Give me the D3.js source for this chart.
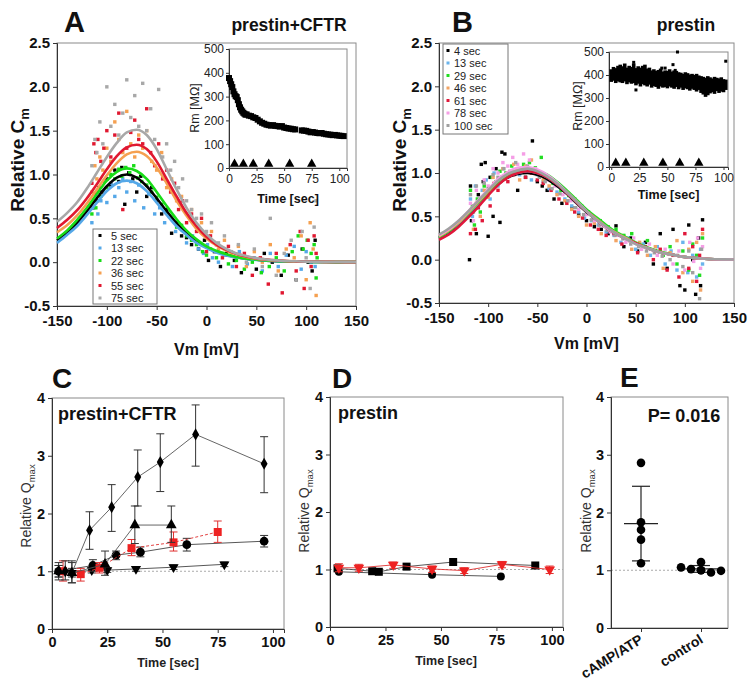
<!DOCTYPE html>
<html><head><meta charset="utf-8">
<script src="https://cdnjs.cloudflare.com/ajax/libs/d3/7.8.5/d3.min.js"></script>
<style>body{margin:0;background:#fff}svg{display:block}text{font-family:Arial,"Liberation Sans",sans-serif}</style>
</head><body><svg id="c" width="752" height="692"></svg>
<script>
// ---------------- DATA ----------------
const vmTicks = [-150,-100,-50,0,50,100,150];
const cmTicks = [-0.5,0,0.5,1,1.5,2,2.5];
const rmTicks = [0,100,200,300,400,500];
const insetTimeTicks = [0,25,50,75,100];
const qTicks = [0,1,2,3,4];
const timeTicks = [0,25,50,75,100];

// fitted curves, sampled every 10 mV
const vGrid = [-150,-140,-130,-120,-110,-100,-90,-80,-70,-60,-50,-40,-30,-20,-10,0,10,20,30,40,50,60,70,80,90,100,110,120,130,140,150];

const labelsA = ['5 sec','13 sec','22 sec','36 sec','55 sec','75 sec'];
const fitA = [
 [0.25,0.33,0.445,0.582,0.729,0.866,0.964,1.0,0.964,0.866,0.729,0.582,0.445,0.329,0.238,0.169,0.118,0.082,0.057,0.039,0.027,0.018,0.012,0.008,0.006,0.004,0.003,0.002,0.001,0.001,0.0],
 [0.22,0.31,0.41,0.54,0.68,0.81,0.90,0.93,0.90,0.81,0.68,0.54,0.41,0.31,0.22,0.16,0.11,0.076,0.053,0.036,0.025,0.017,0.011,0.007,0.005,0.004,0.003,0.002,0.001,0.001,0],
 [0.27,0.36,0.48,0.62,0.78,0.93,1.03,1.07,1.04,0.95,0.80,0.64,0.49,0.36,0.26,0.18,0.13,0.09,0.06,0.04,0.03,0.02,0.013,0.009,0.006,0.004,0.003,0.002,0.001,0.001,0],
 [0.34,0.42,0.53,0.67,0.83,0.99,1.13,1.23,1.26,1.21,1.08,0.90,0.70,0.53,0.38,0.27,0.19,0.13,0.09,0.06,0.04,0.028,0.019,0.013,0.009,0.006,0.004,0.003,0.002,0.001,0.001],
 [0.39,0.48,0.59,0.73,0.89,1.06,1.21,1.31,1.34,1.29,1.15,0.95,0.75,0.56,0.41,0.29,0.20,0.14,0.095,0.064,0.043,0.03,0.02,0.013,0.009,0.006,0.004,0.003,0.002,0.001,0.001],
 [0.46,0.56,0.68,0.84,1.02,1.20,1.36,1.48,1.51,1.45,1.29,1.06,0.83,0.62,0.45,0.32,0.22,0.15,0.10,0.07,0.046,0.03,0.02,0.014,0.01,0.006,0.004,0.003,0.002,0.001,0.001]
];
const ptsA5 = [[-114,0.62],[-112,0.78],[-110,0.70],[-108,0.85],[-105,0.80],[-100,0.95],[-96,0.88],[-92,1.05],[-88,0.92],[-85,1.08],[-82,0.66],[-78,1.02],[-74,0.95],[-70,0.80],[-66,0.98],[-60,0.75],[-55,0.85],[-50,0.70],[-45,0.55],[-40,0.60],[-35,0.33],[-30,0.45],[-25,0.30],[-20,0.28],[-15,0.20],[-8,0.15],[-2,0.25],[2,0.02],[8,0.12],[14,-0.05],[20,0.10],[28,0.02],[35,-0.12],[42,0.05],[50,-0.08],[58,0.10],[66,0.0],[75,-0.15],[82,0.08],[90,-0.20],[96,0.15],[102,0.0],[106,-0.1],[109,0.25]];
const ptsA13 = [[-115,0.45],[-113,0.62],[-111,0.75],[-109,0.55],[-106,0.70],[-103,0.82],[-100,0.68],[-96,0.90],[-92,0.75],[-88,0.85],[-84,0.95],[-80,0.80],[-76,0.92],[-72,0.70],[-68,0.88],[-63,0.62],[-58,0.78],[-52,0.55],[-47,0.62],[-42,0.45],[-37,0.52],[-31,0.35],[-26,0.40],[-20,0.22],[-14,0.30],[-8,0.15],[-3,0.10],[1,0.20],[6,0.05],[12,0.0],[19,0.08],[26,-0.05],[33,0.12],[41,-0.02],[48,0.05],[56,-0.10],[64,0.10],[72,-0.05],[80,0.08],[88,0.18],[95,-0.08],[100,0.12],[105,0.0],[109,-0.05]];
const ptsA22 = [[-115,0.55],[-113,0.70],[-111,0.62],[-109,0.80],[-106,0.75],[-103,0.92],[-100,0.85],[-96,1.0],[-92,0.95],[-88,1.06],[-85,0.98],[-81,1.08],[-77,1.02],[-73,1.10],[-69,0.96],[-65,0.92],[-60,0.88],[-55,0.80],[-50,0.74],[-45,0.66],[-40,0.56],[-35,0.50],[-30,0.40],[-25,0.42],[-20,0.30],[-15,0.25],[-10,0.20],[-4,0.12],[0,0.08],[4,0.15],[10,0.05],[16,0.10],[22,-0.02],[30,0.02],[38,-0.08],[46,0.0],[55,-0.12],[63,-0.05],[70,0.05],[78,-0.10],[86,0.12],[92,0.30],[97,0.15],[101,0.25],[105,0.10],[108,0.20],[110,-0.18],[111,0.05]];
const ptsA36 = [[-115,0.80],[-112,1.10],[-110,0.95],[-107,1.20],[-104,1.05],[-100,1.30],[-96,1.15],[-92,1.60],[-88,1.40],[-84,1.25],[-80,1.72],[-76,1.35],[-72,1.20],[-68,1.45],[-64,1.30],[-60,1.50],[-55,1.15],[-50,1.05],[-45,1.25],[-40,0.85],[-35,0.95],[-30,0.70],[-25,0.75],[-20,0.55],[-15,0.60],[-10,0.40],[-5,0.45],[0,0.30],[5,0.35],[12,0.15],[18,0.25],[25,0.10],[32,0.18],[40,-0.05],[48,0.12],[56,0.0],[64,0.20],[72,-0.10],[80,0.15],[88,0.05],[95,0.30],[100,-0.20],[104,0.45],[107,0.15],[110,-0.38]];
const ptsA55 = [[-115,0.90],[-113,1.35],[-111,1.25],[-109,1.40],[-106,1.15],[-103,1.30],[-100,1.50],[-96,1.20],[-92,1.45],[-88,1.70],[-84,0.60],[-80,1.30],[-76,1.48],[-72,1.62],[-68,1.40],[-64,1.35],[-60,1.75],[-56,1.25],[-52,1.10],[-48,1.35],[-44,0.95],[-40,1.05],[-36,0.80],[-32,0.90],[-28,0.60],[-24,0.70],[-20,0.45],[-15,0.55],[-10,0.35],[-5,0.50],[0,0.12],[4,0.30],[10,0.20],[16,0.05],[22,0.18],[30,-0.05],[38,0.10],[46,-0.15],[54,0.05],[62,-0.25],[70,0.10],[76,-0.35],[84,0.20],[90,-0.10],[94,0.35],[98,-0.30],[102,0.25],[105,-0.05],[108,0.30],[110,0.10]];
const ptsA75 = [[-115,1.10],[-112,1.40],[-110,1.25],[-107,1.60],[-104,1.35],[-100,2.00],[-96,1.55],[-92,1.80],[-88,1.45],[-84,1.70],[-80,2.08],[-76,1.65],[-72,1.90],[-68,1.55],[-64,2.04],[-60,1.50],[-56,1.75],[-52,1.40],[-48,1.97],[-44,1.20],[-40,1.35],[-36,1.05],[-32,1.15],[-28,0.85],[-24,0.95],[-20,0.70],[-15,0.60],[-10,0.50],[-5,0.55],[0,0.35],[5,0.45],[12,0.22],[18,0.30],[25,0.12],[32,0.20],[40,0.0],[48,0.15],[56,-0.05],[64,0.50],[70,-0.15],[78,0.10],[85,0.25],[90,-0.20],[96,0.35],[100,0.05],[104,-0.30],[108,0.40],[110,0.70]];

const labelsB = ['4 sec','13 sec','29 sec','46 sec','61 sec','78 sec','100 sec'];
const fitB = [
 [0.25,0.32,0.41,0.52,0.64,0.76,0.87,0.95,0.99,1.00,0.98,0.93,0.85,0.76,0.65,0.55,0.46,0.37,0.30,0.24,0.19,0.14,0.10,0.07,0.05,0.03,0.02,0.01,0.005,0.003,0.002],
 [0.26,0.33,0.42,0.53,0.65,0.77,0.88,0.96,1.00,1.02,1.00,0.95,0.87,0.77,0.66,0.56,0.46,0.38,0.30,0.24,0.19,0.14,0.10,0.07,0.05,0.03,0.02,0.01,0.005,0.003,0.002],
 [0.26,0.33,0.43,0.54,0.66,0.78,0.90,0.98,1.03,1.05,1.03,0.98,0.90,0.80,0.69,0.58,0.49,0.40,0.32,0.26,0.20,0.15,0.11,0.08,0.05,0.03,0.02,0.01,0.005,0.003,0.002],
 [0.27,0.34,0.43,0.55,0.67,0.79,0.91,0.99,1.04,1.06,1.03,0.97,0.88,0.78,0.67,0.56,0.47,0.38,0.31,0.25,0.19,0.14,0.10,0.07,0.05,0.03,0.02,0.01,0.005,0.003,0.002],
 [0.23,0.29,0.38,0.49,0.61,0.74,0.86,0.95,1.00,1.02,1.00,0.95,0.87,0.77,0.66,0.56,0.46,0.37,0.30,0.24,0.19,0.14,0.10,0.07,0.05,0.03,0.02,0.01,0.005,0.003,0.002],
 [0.28,0.35,0.45,0.56,0.69,0.81,0.93,1.01,1.06,1.07,1.04,0.98,0.89,0.78,0.67,0.56,0.46,0.37,0.30,0.24,0.18,0.14,0.10,0.07,0.05,0.03,0.02,0.01,0.005,0.003,0.002],
 [0.29,0.36,0.45,0.56,0.68,0.80,0.91,0.99,1.03,1.05,1.02,0.96,0.88,0.78,0.67,0.56,0.46,0.38,0.30,0.24,0.18,0.14,0.10,0.07,0.05,0.03,0.02,0.01,0.005,0.003,0.002]
];
const ptsB4 = [[-119,0.0],[-118,0.85],[-117,0.45],[-115,0.60],[-112,0.30],[-110,0.75],[-107,1.10],[-105,0.90],[-103,1.12],[-100,0.27],[-98,0.95],[-95,0.50],[-92,1.05],[-88,0.43],[-86,1.24],[-83,1.22],[-80,0.97],[-75,1.02],[-70,0.80],[-67,1.05],[-62,0.95],[-55,1.37],[-50,0.90],[-45,0.85],[-40,0.80],[-33,0.70],[-25,0.65],[-15,0.60],[-8,0.52],[0,0.45],[8,0.38],[15,0.35],[22,0.30],[30,0.39],[38,0.15],[45,0.25],[52,0.10],[60,0.20],[68,-0.05],[75,0.30],[82,-0.10],[88,0.35],[95,-0.30],[100,-0.35],[104,0.40],[108,0.0],[111,-0.40],[114,0.25],[116,-0.30],[118,0.46]];
const ptsB13 = [[-118,0.70],[-116,0.50],[-113,0.85],[-110,0.60],[-106,0.80],[-102,0.92],[-98,0.70],[-94,1.00],[-90,0.85],[-85,1.05],[-80,0.95],[-74,1.00],[-68,0.98],[-62,1.05],[-56,0.92],[-50,0.98],[-44,0.90],[-38,0.82],[-30,0.78],[-22,0.70],[-15,0.62],[-8,0.55],[-2,0.48],[5,0.45],[12,0.40],[20,0.32],[28,0.28],[35,0.20],[42,0.25],[50,0.12],[58,0.18],[65,0.05],[72,0.15],[80,-0.05],[86,0.10],[92,-0.12],[98,0.20],[103,-0.15],[108,0.05],[112,-0.20],[116,0.12],[118,-0.05]];
const ptsB29 = [[-118,0.80],[-116,0.62],[-114,0.40],[-111,0.70],[-108,0.55],[-104,0.85],[-100,0.78],[-96,0.95],[-92,0.90],[-88,1.02],[-82,1.00],[-76,1.08],[-70,1.05],[-64,1.10],[-58,1.12],[-52,1.06],[-46,1.18],[-40,0.95],[-34,0.88],[-26,0.80],[-18,0.74],[-12,0.70],[-5,0.62],[2,0.55],[8,0.48],[14,0.45],[22,0.38],[30,0.35],[38,0.28],[46,0.30],[54,0.18],[62,0.22],[70,0.10],[78,0.05],[85,0.15],[92,-0.05],[98,0.10],[104,-0.12],[108,0.18],[112,0.05],[115,-0.18],[118,0.25]];
const ptsB46 = [[-118,0.55],[-115,0.35],[-112,0.65],[-108,0.50],[-104,0.80],[-100,0.72],[-95,0.95],[-90,0.88],[-85,1.05],[-80,1.00],[-74,1.10],[-68,0.92],[-62,1.08],[-56,1.15],[-50,1.00],[-44,0.92],[-38,0.85],[-30,0.75],[-22,0.68],[-15,0.58],[-8,0.50],[0,0.40],[8,0.42],[15,0.30],[22,0.35],[30,0.22],[38,0.25],[46,0.12],[54,0.20],[62,0.05],[70,0.15],[78,-0.10],[85,0.08],[92,0.22],[98,-0.15],[104,0.12],[108,-0.25],[112,0.20],[116,-0.35],[118,0.30]];
const ptsB61 = [[-118,0.30],[-116,0.55],[-113,0.35],[-110,0.60],[-106,0.45],[-102,0.75],[-98,0.62],[-94,0.88],[-90,0.80],[-86,0.95],[-80,0.90],[-74,0.98],[-68,1.05],[-62,0.95],[-56,1.00],[-50,0.92],[-44,0.88],[-36,0.80],[-28,0.70],[-20,0.65],[-12,0.55],[-4,0.48],[4,0.40],[12,0.35],[20,0.28],[28,0.30],[36,0.18],[44,0.22],[52,0.08],[60,0.15],[68,0.0],[75,0.12],[82,-0.12],[88,0.05],[94,-0.20],[100,0.30],[104,-0.10],[108,0.15],[112,-0.25],[115,0.05],[118,0.35]];
const ptsB78 = [[-118,0.65],[-115,0.45],[-112,0.80],[-108,0.70],[-104,0.92],[-100,0.85],[-95,1.05],[-90,1.00],[-85,1.12],[-80,1.08],[-75,1.18],[-70,1.10],[-64,1.22],[-58,1.15],[-52,1.05],[-46,0.98],[-40,0.92],[-32,0.85],[-24,0.75],[-16,0.68],[-8,0.58],[0,0.52],[8,0.45],[16,0.40],[24,0.32],[32,0.28],[40,0.20],[48,0.25],[56,0.12],[64,0.18],[72,0.05],[80,0.12],[88,-0.05],[94,0.10],[100,-0.12],[105,0.20],[109,-0.02],[113,0.25],[116,-0.10],[118,0.15]];
const ptsB100 = [[-118,0.75],[-115,0.55],[-112,0.85],[-108,0.65],[-104,0.88],[-100,0.82],[-95,0.98],[-90,0.95],[-84,1.05],[-78,1.02],[-72,1.12],[-66,1.05],[-60,1.08],[-54,1.02],[-48,0.95],[-42,0.90],[-35,0.82],[-27,0.76],[-19,0.68],[-11,0.60],[-3,0.52],[5,0.46],[13,0.40],[21,0.34],[29,0.28],[37,0.24],[45,0.18],[53,0.15],[61,0.10],[69,0.08],[77,0.04],[85,0.0],[92,0.05],[98,-0.08],[104,0.10],[108,-0.15],[112,0.02],[115,-0.45],[117,0.12]];

// insets: membrane resistance vs time
const rmA = [[0,378],[1,365],[2,352],[3,340],[4,322],[5,310],[6,302],[7,298],[8,285],[9,268],[10,255],[11,245],[12,238],[13,232],[14,228],[15,224],[16,225],[18,220],[20,218],[22,213],[24,210],[26,203],[28,196],[30,190],[32,186],[34,182],[36,180],[38,178],[40,180],[42,177],[44,176],[46,174],[48,176],[50,170],[52,168],[54,166],[56,165],[58,163],[60,162],[66,158],[68,157],[70,156],[72,153],[74,150],[76,151],[78,149],[80,147],[82,146],[84,147],[86,144],[88,142],[90,141],[92,140],[94,138],[96,139],[98,137],[100,136],[102,135],[104,134]];
const stimA = [5,13,22,36,55,75];
const rmBband = [[0,370,425],[2,375,435],[4,365,430],[6,372,440],[8,368,445],[10,365,438],[12,372,450],[14,360,432],[16,368,440],[18,362,435],[20,365,450],[22,355,430],[24,362,438],[26,350,432],[28,360,440],[30,355,445],[32,350,428],[34,358,432],[36,345,420],[38,352,425],[40,348,418],[42,340,422],[44,350,428],[46,345,415],[48,348,420],[50,342,418],[52,350,425],[54,345,415],[56,340,420],[58,348,418],[60,338,412],[62,345,410],[64,335,405],[66,342,412],[68,338,408],[70,332,402],[72,340,405],[74,335,400],[76,328,405],[78,335,398],[80,322,395],[82,315,392],[84,305,388],[86,312,395],[88,320,390],[90,325,385],[92,318,392],[94,330,388],[96,322,385],[98,328,390],[100,325,382],[102,335,380]];
const rmBout = [[20,455],[22,335],[45,430],[48,430],[55,445],[57,420],[59,500],[102,460]];
const stimB = [4,13,29,46,61,78];

// panel C
const tDia=[3,6,9,17,27,38.8,49,65,96], qDia=[1.0,1.0,0.97,1.71,2.11,2.63,2.89,3.37,2.86];
const eDia=[[0.85,1.15],[0.85,1.18],[0.8,1.18],[1.38,2.03],[1.69,2.5],[2.13,3.1],[2.38,3.38],[2.82,3.88],[2.36,3.33]];
const tTri=[3,9,24,37.5,54], qTri=[1.0,0.97,1.12,1.8,1.8];
const eTri=[[0.9,1.1],[0.8,1.15],[0.93,1.35],[1.48,2.13],[1.5,2.13]];
const tSq=[5,13,21.5,36,55,75], qSq=[1.0,0.95,1.06,1.4,1.5,1.68];
const eSq=[[0.83,1.18],[0.83,1.05],[0.97,1.15],[1.27,1.55],[1.35,1.68],[1.5,1.87]];
const tCi=[3,18.5,29,40,61,96], qCi=[1.0,1.1,1.28,1.33,1.46,1.52];
const eCi=[[0.9,1.1],[1.0,1.2],[1.2,1.35],[1.25,1.42],[1.35,1.57],[1.42,1.62]];
const tInv=[9,18,25,38,55,78], qInv=[0.97,1.02,1.02,1.04,1.07,1.12];
const eInv=[[0.9,1.05],[0.97,1.07],[0.98,1.06],[1.0,1.08],[1.03,1.11],[1.08,1.16]];

// panel D
const tDsq=[3.4,19,22,34.5,55.5,92.5], qDsq=[1.02,0.97,0.96,1.05,1.13,1.07];
const tDci=[4,46,77], qDci=[0.96,0.91,0.88];
const tDinv=[4,13,28.5,46,60.5,77.5,99], qDinv=[1.03,1.03,1.08,1.01,0.98,1.09,1.0];
const eDinv=[[0.96,1.1],[0.97,1.09],[1.02,1.13],[0.95,1.06],[0.93,1.03],[1.03,1.14],[0.93,1.06]];

// panel E
const groupsE = ['cAMP/ATP','control'];
const qE_camp = [2.86,1.83,1.70,1.53,1.12];
const qE_ctrl = [1.0,1.02,0.96,1.14,1.05,0.99,1.0];

// ---------------- STYLE ----------------
const colA = ['#000000','#55a8e8','#18dc18','#f5a050','#e01830','#a8a8a8'];
const colB = ['#000000','#6ab4ec','#22dd22','#f2a464','#e0183a','#f59ee6','#a0a0a0'];
const FONT = 'Arial, "Liberation Sans", sans-serif';
const svg = d3.select('#c');

function styleAxis(g, size, weight, color) {
  g.attr('font-family', FONT).attr('font-size', size);
  g.select('.domain').attr('stroke', '#333');
  g.selectAll('.tick line').attr('stroke', '#333');
  g.selectAll('.tick text').attr('font-weight', weight).attr('fill', color || '#111');
}
function text(x, y, s, size, weight, anchor, color) {
  return svg.append('text').attr('x', x).attr('y', y).text(s)
    .attr('font-size', size).attr('font-weight', weight || 'normal')
    .attr('text-anchor', anchor || 'start').attr('fill', color || '#111');
}
function yLabel(x, y, main, sub, size, weight, color) {
  const t = svg.append('text').attr('transform', `translate(${x},${y}) rotate(-90)`)
    .attr('text-anchor', 'middle').attr('font-size', size).attr('font-weight', weight).attr('fill', color || '#111');
  t.append('tspan').text(main);
  if (sub) t.append('tspan').attr('font-size', size * 0.68).attr('dy', size * 0.25).text(sub);
}
function frameRect(x0, y0, x1, y1) {
  svg.append('rect').attr('x', x0).attr('y', y0).attr('width', x1 - x0).attr('height', y1 - y0)
    .attr('fill', 'none').attr('stroke', '#8a8a8a').attr('stroke-width', 1);
}

// ---------------- PANEL A / B (Cm vs Vm) ----------------
function cmPanel(cfg) {
  const x = d3.scaleLinear([-150, 150], cfg.xr), y = d3.scaleLinear([-0.5, 2.5], cfg.yr);
  frameRect(cfg.xr[0], cfg.yr[1], cfg.xr[1], cfg.yr[0]);
  const gx = svg.append('g').attr('transform', `translate(0,${cfg.yr[0]})`)
    .call(d3.axisBottom(x).tickValues(vmTicks).tickSize(4).tickPadding(5).tickFormat(d => String(d)));
  styleAxis(gx, 15, 'bold');
  const gy = svg.append('g').attr('transform', `translate(${cfg.xr[0]},0)`)
    .call(d3.axisLeft(y).tickValues(cmTicks).tickSize(4).tickPadding(3).tickFormat(d => d.toFixed(1)));
  styleAxis(gy, 15, 'bold');
  // scatter
  cfg.pts.forEach((pts, i) => {
    svg.append('g').selectAll('rect').data(pts).join('rect')
      .attr('x', d => x(d[0]) - 1.7).attr('y', d => y(d[1]) - 1.7)
      .attr('width', 3.4).attr('height', 3.4).attr('fill', cfg.cols[i]);
  });
  // fitted curves
  const line = d3.line().x((d, j) => x(vGrid[j])).y(d => y(d)).curve(d3.curveMonotoneX);
  cfg.fits.forEach((f, i) => {
    svg.append('path').attr('d', line(f)).attr('fill', 'none')
      .attr('stroke', cfg.cols[i]).attr('stroke-width', 2.6);
  });
  // legend
  const L = cfg.leg;
  svg.append('rect').attr('x', L.x0).attr('y', L.y0).attr('width', L.x1 - L.x0).attr('height', L.y1 - L.y0)
    .attr('fill', '#fff').attr('stroke', '#777');
  cfg.labels.forEach((s, i) => {
    const yy = L.ry + i * L.dy;
    svg.append('rect').attr('x', L.mx - 1.5).attr('y', yy - 1.5).attr('width', 3).attr('height', 3).attr('fill', cfg.cols[i]);
    text(L.tx, yy + 4, s, 11, 'normal', 'start', '#222');
  });
  text((cfg.xr[0] + cfg.xr[1]) / 2, cfg.xlabY, 'Vm [mV]', 16, 'bold', 'middle');
  yLabel(cfg.ylabX, 160, 'Relative C', 'm', 19, 'bold');
}

cmPanel({xr: [57, 356], yr: [306, 43], pts: [ptsA5, ptsA13, ptsA22, ptsA36, ptsA55, ptsA75], fits: fitA,
  cols: colA, labels: labelsA, leg: {x0: 93, y0: 229, x1: 157, y1: 304, ry: 235.5, dy: 12.5, mx: 100, tx: 111},
  xlabY: 355, ylabX: 24});
cmPanel({xr: [439, 734], yr: [303, 43], pts: [ptsB4, ptsB13, ptsB29, ptsB46, ptsB61, ptsB78, ptsB100], fits: fitB,
  cols: colB, labels: labelsB, leg: {x0: 443, y0: 44, x1: 508, y1: 134, ry: 50.5, dy: 12.5, mx: 448, tx: 454},
  xlabY: 349, ylabX: 406});

// insets
function inset(cfg) {
  const x = d3.scaleLinear(cfg.xd, cfg.xr), y = d3.scaleLinear([0, 500], cfg.yr);
  svg.append('rect').attr('x', cfg.xr[0]).attr('y', cfg.yr[1]).attr('width', cfg.xr[1] - cfg.xr[0])
    .attr('height', cfg.yr[0] - cfg.yr[1]).attr('fill', '#fff');
  frameRect(cfg.xr[0], cfg.yr[1], cfg.xr[1], cfg.yr[0]);
  const gx = svg.append('g').attr('transform', `translate(0,${cfg.yr[0]})`)
    .call(d3.axisBottom(x).tickValues(insetTimeTicks).tickSize(3).tickPadding(3));
  styleAxis(gx, 12, 'normal', '#222');
  const gy = svg.append('g').attr('transform', `translate(${cfg.xr[0]},0)`)
    .call(d3.axisLeft(y).tickValues(rmTicks).tickSize(3).tickPadding(2));
  styleAxis(gy, 12, 'normal', '#222');
  cfg.draw(x, y);
  svg.append('g').selectAll('path').data(cfg.stim).join('path')
    .attr('d', d3.symbol().type(d3.symbolTriangle).size(38))
    .attr('transform', d => `translate(${x(d)},${cfg.yr[0] - 4})`).attr('fill', '#000');
  text((cfg.xr[0] + cfg.xr[1]) / 2, cfg.tY, 'Time [sec]', 12.5, 'bold', 'middle');
  yLabel(cfg.rX, cfg.rY, 'Rm [MΩ]', null, 12.5, 'normal', '#222');
}
inset({xd: [0, 107], xr: [229, 347], yr: [168, 49], stim: stimA, tY: 203, rX: 199, rY: 108,
  draw: (x, y) => {
    svg.append('g').selectAll('rect').data(rmA).join('rect')
      .attr('x', d => x(d[0]) - 3).attr('y', d => y(d[1]) - 3).attr('width', 6).attr('height', 6).attr('fill', '#000');
  }});
inset({xd: [-2, 104], xr: [609, 728], yr: [167, 52], stim: stimB, tY: 199, rX: 582, rY: 106,
  draw: (x, y) => {
    svg.append('g').selectAll('rect').data(rmBband).join('rect')
      .attr('x', d => x(d[0]) - 1.8).attr('y', d => y(d[2])).attr('width', 3.6)
      .attr('height', d => y(d[1]) - y(d[2])).attr('fill', '#000');
    svg.append('g').selectAll('rect').data(rmBout).join('rect')
      .attr('x', d => x(d[0]) - 1.5).attr('y', d => y(d[1]) - 1.5).attr('width', 3).attr('height', 3).attr('fill', '#000');
  }});

// titles A/B
text(64, 32, 'A', 29, 'bold');
text(289, 31, 'prestin+CFTR', 17.5, 'bold', 'middle');
text(452, 32, 'B', 29, 'bold');
text(686, 31, 'prestin', 17.5, 'bold', 'middle');

// ---------------- PANELS C / D (Qmax vs time) ----------------
function qAxes(xr, yr, xd) {
  const x = d3.scaleLinear(xd, xr), y = d3.scaleLinear([0, 4], yr);
  frameRect(xr[0], yr[1], xr[1], yr[0]);
  svg.append('line').attr('x1', xr[0]).attr('x2', xr[1]).attr('y1', y(1)).attr('y2', y(1))
    .attr('stroke', '#aaa').attr('stroke-dasharray', '2,2');
  const gx = svg.append('g').attr('transform', `translate(0,${yr[0]})`)
    .call(d3.axisBottom(x).tickValues(timeTicks).tickSize(4).tickPadding(4).tickFormat(d => String(d)));
  styleAxis(gx, 14.5, 'bold');
  const gy = svg.append('g').attr('transform', `translate(${xr[0]},0)`)
    .call(d3.axisLeft(y).tickValues(qTicks).tickSize(4).tickPadding(3).tickFormat(d => String(d)));
  styleAxis(gy, 14.5, 'bold');
  return {x, y};
}
function series(sc, t, q, e, opt) {
  const pts = t.map((d, i) => [d, q[i]]);
  svg.append('path').attr('d', d3.line().x(d => sc.x(d[0])).y(d => sc.y(d[1]))(pts))
    .attr('fill', 'none').attr('stroke', opt.lc).attr('stroke-width', 0.9)
    .attr('stroke-dasharray', opt.dash || null);
  if (e) {
    const g = svg.append('g').attr('stroke', opt.ec).attr('stroke-width', 1);
    e.forEach((r, i) => {
      const xx = sc.x(t[i]);
      g.append('line').attr('x1', xx).attr('x2', xx).attr('y1', sc.y(r[0])).attr('y2', sc.y(r[1]));
      g.append('line').attr('x1', xx - 4).attr('x2', xx + 4).attr('y1', sc.y(r[0])).attr('y2', sc.y(r[0]));
      g.append('line').attr('x1', xx - 4).attr('x2', xx + 4).attr('y1', sc.y(r[1])).attr('y2', sc.y(r[1]));
    });
  }
  svg.append('g').selectAll('path').data(pts).join('path')
    .attr('d', d3.symbol().type(opt.sym).size(opt.size))
    .attr('transform', d => `translate(${sc.x(d[0])},${sc.y(d[1])}) rotate(${opt.rot || 0})`)
    .attr('fill', opt.fill);
}
const scC = qAxes([52, 284], [629, 398], [0, 105]);
series(scC, tInv, qInv, eInv, {lc: '#444', ec: '#333', sym: d3.symbolTriangle, size: 45, rot: 180, fill: '#000'});
series(scC, tCi, qCi, eCi, {lc: '#444', ec: '#333', sym: d3.symbolCircle, size: 60, fill: '#000'});
series(scC, tSq, qSq, eSq, {lc: '#e03030', ec: '#e03030', dash: '3,2', sym: d3.symbolSquare, size: 64, fill: '#ee2222'});
series(scC, tTri, qTri, eTri, {lc: '#555', ec: '#333', sym: d3.symbolTriangle, size: 50, fill: '#000'});
series(scC, tDia, qDia, eDia, {lc: '#555', ec: '#333', sym: d3.symbolDiamond, size: 42, fill: '#000'});
text(52, 388, 'C', 28, 'bold');
text(58, 420, 'prestin+CFTR', 18, 'bold');
text(168, 667, 'Time [sec]', 12.5, 'bold', 'middle', '#222');
yLabel(31, 506, 'Relative Q', 'max', 14, 'normal', '#333');

const scD = qAxes([330, 563], [627, 397], [0, 105]);
series(scD, tDci, qDci, null, {lc: '#444', sym: d3.symbolCircle, size: 50, fill: '#000'});
series(scD, tDsq, qDsq, null, {lc: '#444', sym: d3.symbolSquare, size: 64, fill: '#000'});
series(scD, tDinv, qDinv, eDinv, {lc: '#e03030', ec: '#e03030', sym: d3.symbolTriangle, size: 50, rot: 180, fill: '#ee2222'});
text(332, 388, 'D', 28, 'bold');
text(338, 419, 'prestin', 18, 'bold');
text(446, 665, 'Time [sec]', 12.5, 'bold', 'middle', '#222');
yLabel(309, 511, 'Relative Q', 'max', 14, 'normal', '#333');

// ---------------- PANEL E ----------------
(function () {
  const xr = [611, 728], yr = [628, 397];
  const x = d3.scalePoint(groupsE, [641, 701]);
  const y = d3.scaleLinear([0, 4], yr);
  frameRect(xr[0], yr[1], xr[1], yr[0]);
  svg.append('line').attr('x1', xr[0]).attr('x2', xr[1]).attr('y1', y(1)).attr('y2', y(1))
    .attr('stroke', '#aaa').attr('stroke-dasharray', '2,2');
  const gy = svg.append('g').attr('transform', `translate(${xr[0]},0)`)
    .call(d3.axisLeft(y).tickValues(qTicks).tickSize(4).tickPadding(3).tickFormat(d => String(d)));
  styleAxis(gy, 14.5, 'bold');
  const gx = svg.append('g').attr('transform', `translate(0,${yr[0]})`)
    .call(d3.axisBottom(x).tickSize(4).tickFormat(''));
  styleAxis(gx, 14, 'bold');
  gx.select('.domain').attr('d', `M${xr[0]},0.5H${xr[1]}`);
  groupsE.forEach(g => {
    svg.append('text').attr('transform', `translate(${x(g) + 3},${yr[0] + 14}) rotate(-32)`)
      .attr('text-anchor', 'end').attr('font-size', 14).attr('font-weight', 'bold').attr('fill', '#111').text(g);
  });
  [qE_camp, qE_ctrl].forEach((vals, gi) => {
    const cx = x(groupsE[gi]);
    const placed = [];
    const offs = [0, -5, 5, -10, 10, -15, 15, -20, 20, -25, 25];
    vals.forEach(v => {
      const py = y(v);
      let px = cx;
      for (const o of offs) {
        if (placed.every(p => Math.hypot(p[0] - (cx + o), p[1] - py) >= 7.5)) { px = cx + o; break; }
      }
      placed.push([px, py]);
    });
    const m = d3.mean(vals), sd = d3.deviation(vals);
    const g = svg.append('g').attr('stroke', '#222').attr('stroke-width', 1.2);
    g.append('line').attr('x1', cx - 17).attr('x2', cx + 17).attr('y1', y(m)).attr('y2', y(m));
    g.append('line').attr('x1', cx).attr('x2', cx).attr('y1', y(m - sd)).attr('y2', y(m + sd));
    g.append('line').attr('x1', cx - 9).attr('x2', cx + 9).attr('y1', y(m - sd)).attr('y2', y(m - sd));
    g.append('line').attr('x1', cx - 9).attr('x2', cx + 9).attr('y1', y(m + sd)).attr('y2', y(m + sd));
    svg.append('g').selectAll('circle').data(placed).join('circle')
      .attr('cx', d => d[0]).attr('cy', d => d[1]).attr('r', 4.3).attr('fill', '#000');
  });
  text(620, 387, 'E', 28, 'bold');
  text(684, 422, 'P= 0.016', 18, 'bold', 'middle');
  yLabel(591, 511, 'Relative Q', 'max', 14, 'normal', '#333');
})();
</script></body></html>
